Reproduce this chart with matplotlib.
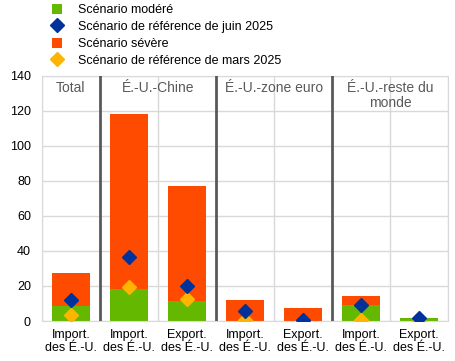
import numpy as np
import matplotlib.pyplot as plt
from matplotlib.lines import Line2D
from matplotlib.patches import Patch

plt.rcParams['font.family'] = ['Liberation Sans', 'DejaVu Sans']

# Données (lecture du graphique)
tick_labels = ["Import.\ndes É.-U.", "Import.\ndes É.-U.", "Export.\ndes É.-U.",
               "Import.\ndes É.-U.", "Export.\ndes É.-U.", "Import.\ndes É.-U.",
               "Export.\ndes É.-U."]
severe = [27.5, 118.3, 77.1, 12.0, 7.4, 14.3, 1.7]
modere = [8.6, 18.3, 11.4, 0.0, 0.0, 9.0, 1.7]
ref_juin = [12.0, 36.4, 20.0, 5.9, 0.6, 9.1, 1.9]
ref_mars = [3.4, 19.6, 12.6, 0.8, 0.0, 0.6, 0.0]
groups = ["Total", "É.-U.-Chine", "É.-U.-zone euro", "É.-U.-reste du\nmonde"]
group_pos = [0, 1.5, 3.5, 5.5]
separators = [0.5, 2.5, 4.5]

GREEN = '#65b800'
BLUE = '#003299'
ORANGE = '#ff4b00'
YELLOW = '#ffb400'

fig = plt.figure(figsize=(4.55, 3.61), dpi=100)
ax = fig.add_axes([0.0923, 0.1108, 0.8923, 0.6787])

x = np.arange(len(tick_labels))
ax.bar(x, severe, width=0.66, color=ORANGE, zorder=2)
ax.bar(x, modere, width=0.66, color=GREEN, zorder=2)
ax.plot(x, ref_mars, linestyle='none', marker='D', markersize=7.5, color=YELLOW, zorder=3)
ax.plot(x, ref_juin, linestyle='none', marker='D', markersize=7.5, color=BLUE, zorder=4)

ax.set_xlim(-0.5, len(tick_labels) - 0.5)
ax.set_ylim(0, 140)
ax.set_yticks(range(0, 141, 20))
ax.set_xticks(x)
ax.set_xticklabels(tick_labels, fontsize=9, linespacing=1.05)
ax.tick_params(axis='both', length=0, labelsize=9, colors='black')
ax.tick_params(axis='x', pad=6)
ax.tick_params(axis='y', pad=8)

# grille
ax.grid(axis='y', color='#d9d9d9', linewidth=1, zorder=0)
for b in np.arange(-0.5, len(tick_labels), 1.0):
    if b not in separators:
        ax.axvline(b, color='#d9d9d9', linewidth=1, zorder=0)
for s in separators:
    ax.axvline(s, color='#595959', linewidth=2, zorder=5)
for sp in ax.spines.values():
    sp.set_color('#d9d9d9')

for g, p in zip(groups, group_pos):
    ax.text(p, 137, g, ha='center', va='top', fontsize=10, color='#595959',
            linespacing=1.05, zorder=6)

handles = [
    Patch(facecolor=GREEN, edgecolor='none'),
    Line2D([], [], linestyle='none', marker='D', markersize=7.5, color=BLUE),
    Patch(facecolor=ORANGE, edgecolor='none'),
    Line2D([], [], linestyle='none', marker='D', markersize=7.5, color=YELLOW),
]
labels = ["Scénario modéré", "Scénario de référence de juin 2025",
          "Scénario sévère", "Scénario de référence de mars 2025"]
fig.legend(handles, labels, loc='upper left', bbox_to_anchor=(0.114, 0.99),
           frameon=False, fontsize=9, handlelength=0.85, handleheight=0.85,
           handletextpad=1.25, labelspacing=0.38, borderaxespad=0, borderpad=0)

fig.savefig('out.png', dpi=100)
